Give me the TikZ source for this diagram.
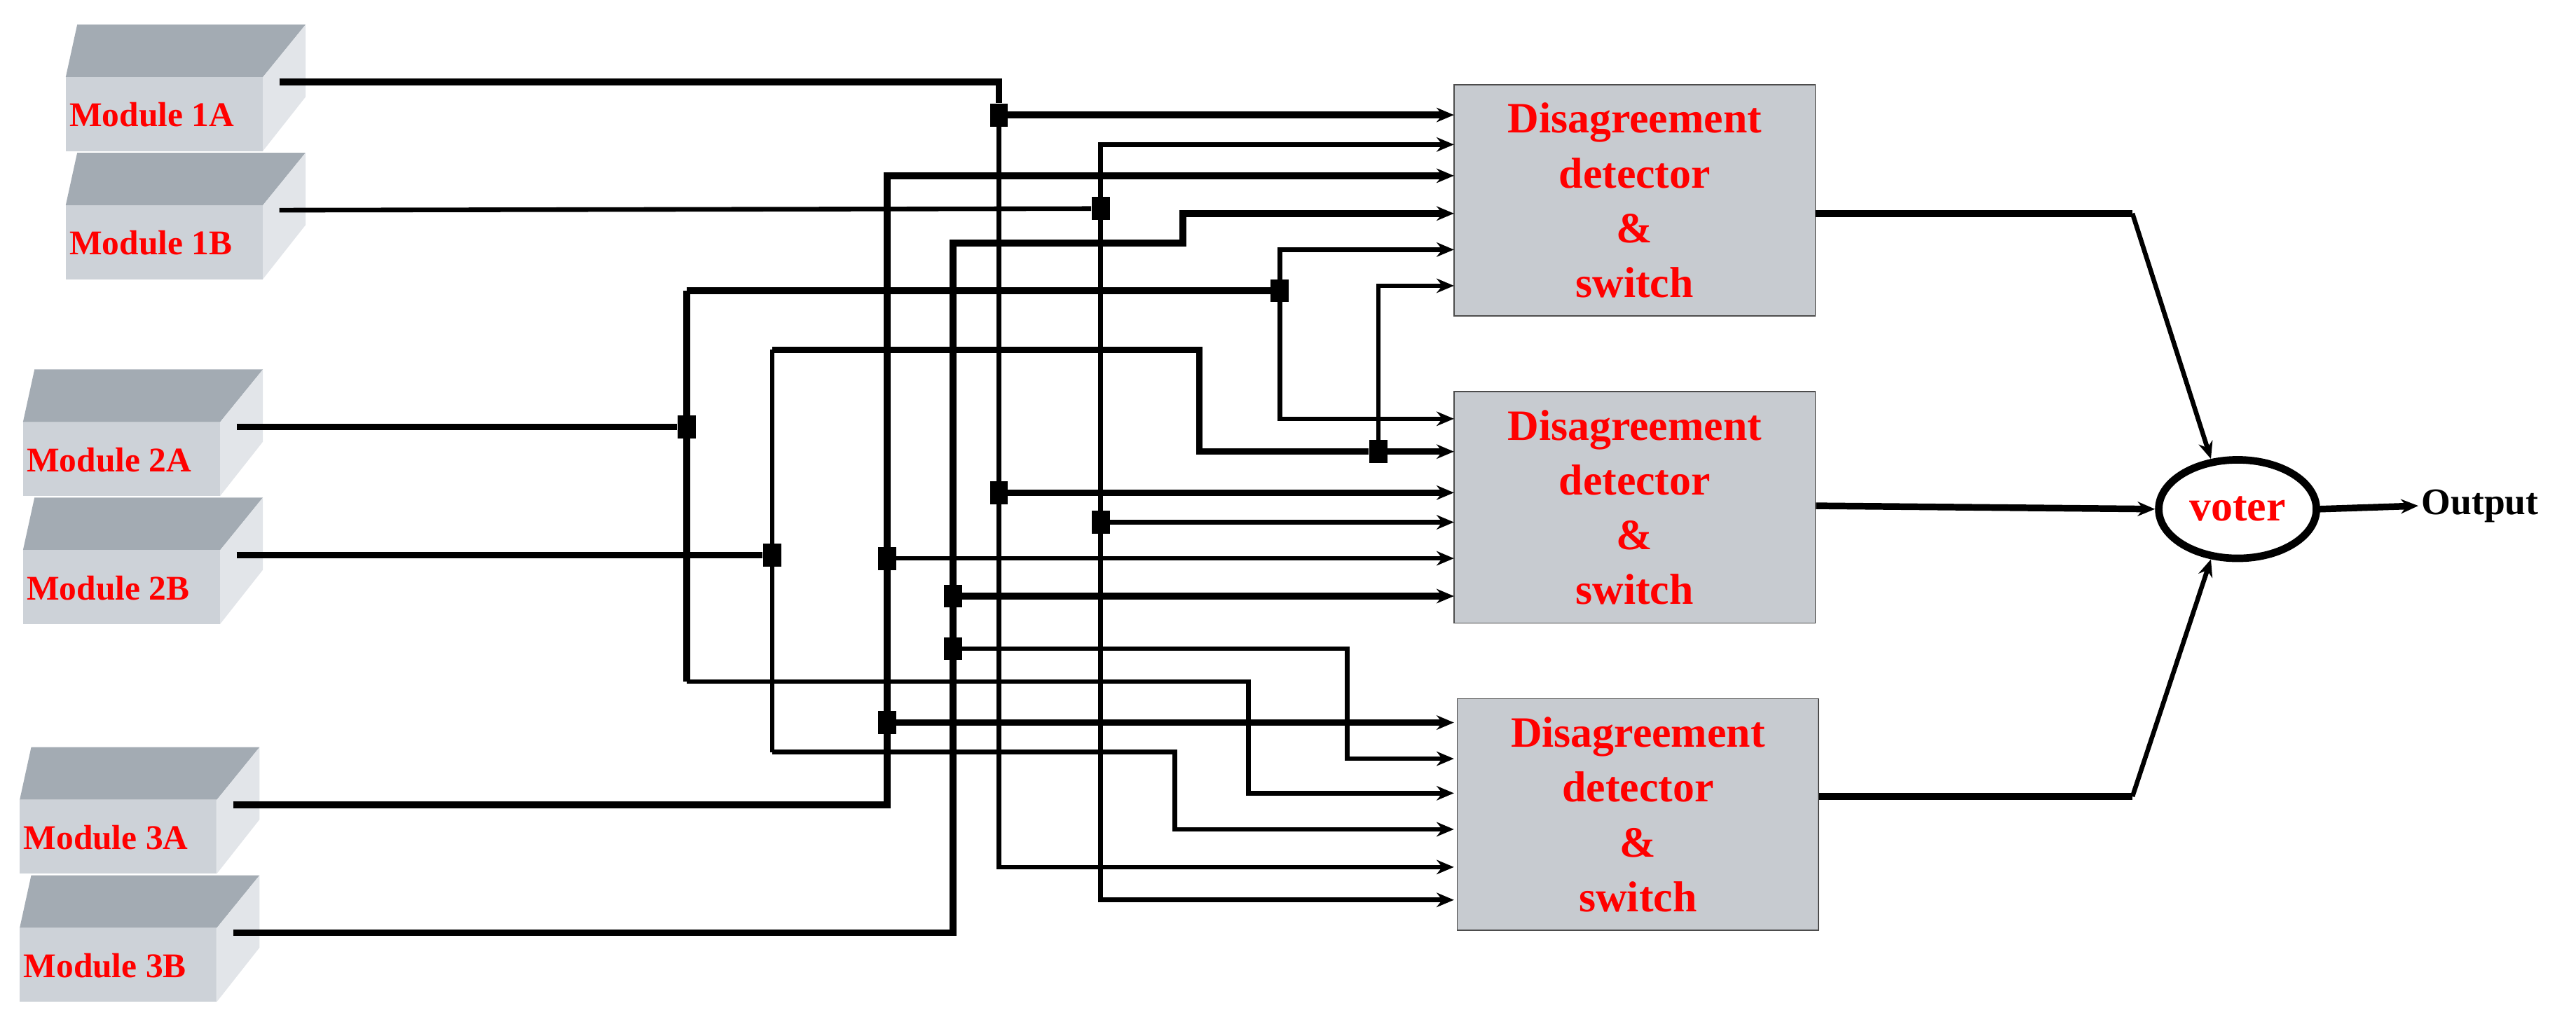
\documentclass[tikz,border=0pt]{standalone}
\usepackage{fontspec}
\setmainfont{Liberation Serif}
\usetikzlibrary{arrows.meta,shapes.geometric}
\definecolor{modtop}{HTML}{A3ABB3}
\definecolor{modfront}{HTML}{CDD2D8}
\definecolor{modside}{HTML}{E2E5E9}
\definecolor{ddfill}{HTML}{C7CBD0}
\tikzset{
    wire/.style={line width=1.6pt},
    bus/.style={line width=2.3pt},
    junc/.style={fill=black, inner sep=0pt, minimum width=0.22cm, minimum height=0.28cm},
    ddbox/.style={draw=black!70, fill=ddfill, minimum width=4.4cm, minimum height=2.82cm,
        align=center, text=red, font=\fontsize{15}{19}\selectfont\bfseries},
    modlabel/.style={text=red, font=\fontsize{12}{14}\selectfont\bfseries, anchor=west, inner sep=0pt},
}
% 3D module block: name, x, y (top-left of front face), label
\newcommand{\modblock}[4]{
    \fill[modtop] (#2,#3) -- (#2+7,#3-32) -- (#2+146,#3-32) -- (#2+120,#3) -- cycle;
    \fill[modside] (#2+120,#3) -- (#2+146,#3-32) -- (#2+146,#3+12) -- (#2+120,#3+45) -- cycle;
    \fill[modfront] (#2,#3) rectangle (#2+120,#3+45);
    \node[modlabel] (#1) at (#2+2,#3+23) {#4};
    \coordinate (#1-out) at (#2+130,#3+3);
}
\begin{document}
\begin{tikzpicture}[x=0.02cm, y=-0.02cm, >={Stealth[length=6pt,width=5pt]}]
    \useasboundingbox (0,0) rectangle (1568,622);

        % Define the modules (left)
        \modblock{m1a}{40}{47}{Module 1A}
        \modblock{m1b}{40}{125}{Module 1B}
        \modblock{m2a}{14}{257}{Module 2A}
        \modblock{m2b}{14}{335}{Module 2B}
        \modblock{m3a}{12}{487}{Module 3A}
        \modblock{m3b}{12}{565}{Module 3B}

        % Define the disagreement detectors (middle)
        \node[ddbox] (dd1) at (995,122) {Disagreement\\detector\\\&\\switch};
        \node[ddbox] (dd2) at (995,309) {Disagreement\\detector\\\&\\switch};
        \node[ddbox] (dd3) at (997,496) {Disagreement\\detector\\\&\\switch};

        % Define the voter and the output (right)
        \node[draw, ellipse, line width=2.6pt, minimum width=1.92cm, minimum height=1.2cm, inner sep=0pt,
            text=red, font=\fontsize{15}{18}\selectfont\bfseries] (voter) at (1362,310) {voter};
        \node[font=\fontsize{13}{16}\selectfont\bfseries, anchor=west, inner sep=1pt] (out) at (1472,308) {Output};

        % Define the inputs of the detectors
        \foreach \y [count=\i] in {70,88,107,130,152,174} {\coordinate (a\i) at (885,\y);}
        \foreach \y [count=\i] in {255,275,300,318,340,363} {\coordinate (b\i) at (885,\y);}
        \foreach \y [count=\i] in {440,462,483,505,528,548} {\coordinate (c\i) at (885,\y);}

        % Define the junctions
        \node[junc] (j1a1) at (608,70) {};
        \node[junc] (j1a2) at (608,300) {};
        \node[junc] (j1b0) at (670,127) {};
        \node[junc] (j1b2) at (670,318) {};
        \node[junc] (j3a2) at (540,340) {};
        \node[junc] (j3a3) at (540,440) {};
        \node[junc] (j3b2) at (580,363) {};
        \node[junc] (j3b3) at (580,395) {};
        \node[junc] (j2a0) at (418,260) {};
        \node[junc] (j2a1) at (779,177) {};
        \node[junc] (j2b0) at (470,338) {};
        \node[junc] (j2b2) at (839,275) {};

        % Module 1A
        \draw[bus] (m1a-out) -| (j1a1);
        \draw[wire, ->] (j1a1.center) |- (c5);
        \draw[bus, ->] (j1a1.center) -- (a1);
        \draw[bus, ->] (j1a2.center) -- (b3);

        % Module 1B
        \draw[wire] (m1b-out) -- (j1b0);
        \draw[wire, ->] (j1b0.center) |- (a2);
        \draw[wire, ->] (j1b0.center) |- (c6);
        \draw[wire, ->] (j1b2.center) -- (b4);

        % Module 3A
        \draw[bus, ->] (m3a-out) -| (540,107) -- (a3);
        \draw[wire, ->] (j3a2.center) -- (b5);
        \draw[bus, ->] (j3a3.center) -- (c1);

        % Module 3B
        \draw[bus, ->] (m3b-out) -| (580,148) -| (720,130) -- (a4);
        \draw[bus, ->] (j3b2.center) -- (b6);
        \draw[wire, ->] (j3b3.center) -| (820,462) -- (c2);

        % Module 2A
        \draw[bus] (m2a-out) -- (j2a0);
        \draw[bus] (418,177) -- (418,415);
        \draw[bus] (418,177) -- (j2a1);
        \draw[wire, ->] (j2a1.center) |- (a5);
        \draw[wire, ->] (j2a1.center) |- (b1);
        \draw[wire, ->] (418,415) -| (760,483) -- (c3);

        % Module 2B
        \draw[bus] (m2b-out) -- (j2b0);
        \draw[wire] (470,213) -- (470,458);
        \draw[bus] (470,213) -| (730,275) -- (j2b2);
        \draw[wire, ->] (j2b2.center) |- (a6);
        \draw[bus, ->] (j2b2.center) -- (b2);
        \draw[wire, ->] (470,458) -| (715,505) -- (c4);

        % Detector outputs to the voter
        \draw[bus] (dd1.east |- 0,130) -- (1298,130);
        \draw[wire, ->] (1298,130) -- (voter.118);
        \draw[bus, ->] (dd2.east |- 0,308) -- (voter.west);
        \draw[bus] (dd3.east |- 0,485) -- (1298,485);
        \draw[wire, ->] (1298,485) -- (voter.242);
        \draw[bus, ->] (voter.east) -- (out.west);

    \end{tikzpicture}
\end{document}
